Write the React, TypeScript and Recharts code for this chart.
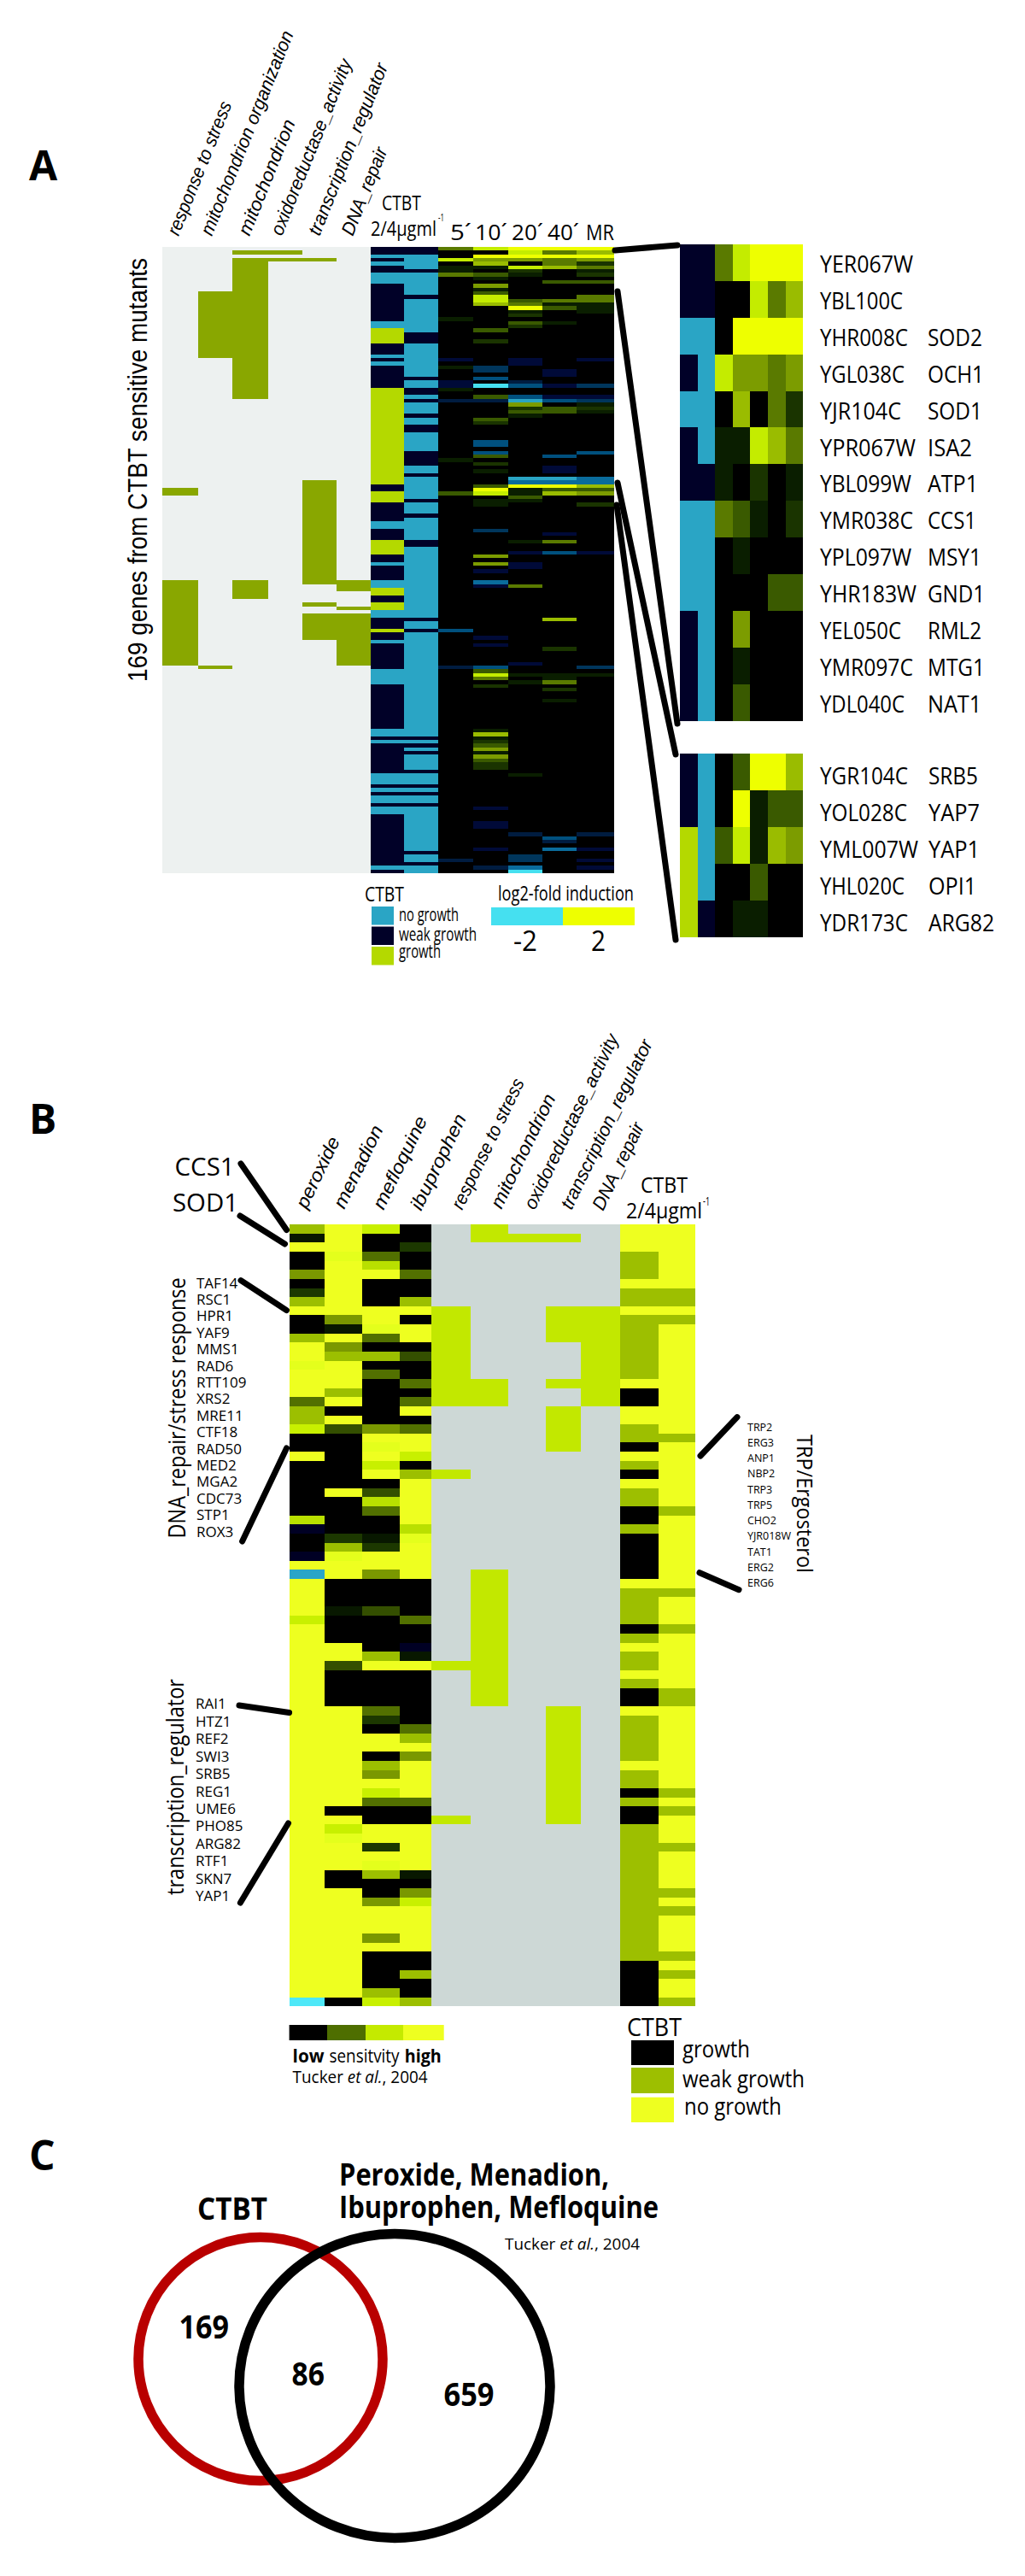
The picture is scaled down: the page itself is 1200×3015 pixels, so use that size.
import React from 'react'
import { BarChart, Bar, XAxis, YAxis, ScatterChart, Scatter } from 'recharts'

// ---- panel A: GO annotation, rows are [first, last] inclusive
const annotResponse = [[65, 66], [90, 112]]
const annotMitoOrg = [[12, 29], [113, 113]]
const annotMito = [[1, 1], [3, 40], [90, 94]]
const annotOxido = [[1, 1], [3, 3]]
const annotTranscription = [[3, 3], [63, 90], [96, 96], [99, 105]]
const annotDnaRepair = [[90, 92], [97, 97], [99, 112]]

// ---- panel A: CTBT growth, runs of [count, state]  N weak  B none  L growth
const ctbtA2: [number, string][] = [[2, 'N'], [1, 'B'], [1, 'N'], [1, 'B'], [2, 'N'], [3, 'B'], [10, 'N'], [2, 'B'], [4, 'L'], [3, 'N'], [1, 'B'], [1, 'N'], [1, 'B'], [6, 'N'], [26, 'L'], [2, 'N'], [3, 'L'], [5, 'N'], [2, 'B'], [3, 'N'], [4, 'L'], [2, 'N'], [1, 'B'], [4, 'N'], [2, 'B'], [2, 'L'], [2, 'N'], [2, 'L'], [2, 'B'], [3, 'N'], [1, 'L'], [2, 'N'], [1, 'B'], [7, 'N'], [4, 'B'], [12, 'N'], [2, 'B'], [1, 'N'], [1, 'B'], [8, 'N'], [3, 'B'], [1, 'N'], [1, 'B'], [1, 'N'], [2, 'B'], [1, 'N'], [2, 'B'], [14, 'N'], [1, 'B'], [1, 'N']]
const ctbtA4: [number, string][] = [[2, 'N'], [4, 'B'], [1, 'N'], [6, 'B'], [1, 'N'], [9, 'B'], [3, 'N'], [9, 'B'], [1, 'N'], [2, 'B'], [2, 'N'], [1, 'B'], [1, 'N'], [3, 'B'], [1, 'N'], [2, 'B'], [2, 'N'], [5, 'B'], [4, 'N'], [2, 'B'], [1, 'N'], [6, 'B'], [1, 'N'], [3, 'B'], [1, 'N'], [6, 'B'], [2, 'N'], [19, 'B'], [1, 'N'], [2, 'B'], [1, 'N'], [28, 'B'], [1, 'N'], [1, 'B'], [1, 'N'], [1, 'B'], [1, 'N'], [4, 'B'], [1, 'N'], [3, 'B'], [1, 'N'], [1, 'B'], [1, 'N'], [2, 'B'], [1, 'N'], [12, 'B'], [1, 'N'], [2, 'B'], [1, 'N'], [2, 'B']]

// ---- panel A: log2 fold induction, [row, value], anything not listed is 0
const expr5min = [[0, 1], [3, 1.75], [5, 0.25], [6, 0.25], [7, 1], [19, 0.25], [30, -0.25], [32, 0.25], [36, -0.25], [37, -0.25], [38, 0.25], [41, -0.5], [57, 0.25], [66, 0.75], [103, -1], [113, -0.5], [165, -0.5]]
const expr10min = [[0, 1.75], [2, 2], [3, 1.25], [4, 1.5], [5, 0.25], [7, 0.75], [8, 0.25], [10, 1.25], [11, 0.25], [12, 0.75], [13, 1.75], [14, 1.75], [15, 1.5], [22, 0.75], [25, 0.5], [32, -0.75], [33, -0.75], [35, -1], [37, -2], [40, 0.75], [41, -0.5], [46, 0.75], [47, 0.5], [52, -1], [53, -1], [55, -1], [56, 0.75], [58, 0.5], [60, 0.25], [64, 0.75], [65, 2], [66, 1.75], [68, 0.25], [69, 0.25], [76, -0.75], [83, 1.25], [85, 1.25], [87, -0.25], [90, -1.25], [91, -0.25], [105, -0.25], [107, -0.25], [113, -1], [114, 0.75], [115, 1.75], [116, 1], [118, 0.5], [130, 0.25], [131, 1.5], [132, 0.25], [133, 0.5], [134, 0.75], [135, 1.25], [136, 0.25], [137, 1.25], [138, 0.75], [139, 0.5], [140, 0.5], [151, -0.25], [155, -0.25], [156, -0.25], [162, -0.25], [167, -0.5]]
const expr20min = [[0, 2], [1, 1.75], [2, 2], [3, 1.25], [5, 1.75], [6, 0.5], [7, 0.25], [14, 0.75], [15, 1], [16, 2], [17, 0.25], [18, 0.5], [20, 0.75], [21, 0.5], [30, -0.25], [31, -0.25], [36, -0.5], [37, -1], [40, -1], [41, -1.5], [42, 1.25], [43, 0.5], [44, 0.75], [45, 0.25], [62, -1.5], [63, -1.25], [64, 2], [65, 0.25], [66, 0.25], [67, 0.75], [68, 0.25], [79, 0.25], [82, -0.25], [85, -0.25], [86, -0.25], [91, 1], [112, -0.25], [115, 0.25], [117, 0.25], [142, 0.25], [158, -0.5], [164, -0.75], [165, -0.75], [167, -1.25], [168, -2]]
const expr40min = [[0, 2], [1, 1], [2, 2], [3, 1], [4, 1], [5, 1.5], [9, 0.75], [14, 1], [15, 0.25], [16, 0.75], [20, 0.25], [33, -0.25], [34, -0.25], [37, -0.25], [40, -0.25], [41, -1], [43, 0.75], [44, 0.75], [56, -1], [59, -0.25], [60, -0.25], [62, -1.5], [63, -1.25], [64, 2], [65, 0.75], [66, 1.5], [77, -0.25], [79, 1], [82, -1], [100, 1.5], [108, 0.5], [115, 0.25], [116, 0.25], [117, 1], [119, 0.5], [122, 0.25], [159, -1], [160, -0.5], [162, -1.25]]
const exprMR = [[0, 2], [1, 1.5], [2, 2], [3, 1.25], [4, 0.5], [5, 1], [6, 0.25], [7, 0.5], [9, 0.75], [13, 1], [14, 1], [15, 0.25], [16, 0.25], [17, 0.25], [30, -0.25], [37, -0.75], [40, -0.25], [41, -0.75], [42, 0.25], [43, 0.5], [44, 0.25], [55, -1], [62, -1.25], [63, -1.25], [64, 1.5], [65, 0.75], [66, 1.25], [69, 0.5], [82, -0.25], [113, -0.75], [115, 0.25], [158, -0.5], [162, -0.25], [165, -0.25], [167, -0.25]]

const genesTop = [['YER067W', ''], ['YBL100C', ''], ['YHR008C', 'SOD2'], ['YGL038C', 'OCH1'], ['YJR104C', 'SOD1'], ['YPR067W', 'ISA2'], ['YBL099W', 'ATP1'], ['YMR038C', 'CCS1'], ['YPL097W', 'MSY1'], ['YHR183W', 'GND1'], ['YEL050C', 'RML2'], ['YMR097C', 'MTG1'], ['YDL040C', 'NAT1']]
const genesBottom = [['YGR104C', 'SRB5'], ['YOL028C', 'YAP7'], ['YML007W', 'YAP1'], ['YHL020C', 'OPI1'], ['YDR173C', 'ARG82']]

// ---- panel B: drug sensitivity, runs of [count, level]
const peroxide: [number, string][] = [[1, 'm3'], [1, 'd1'], [1, 'Y'], [2, 'K'], [1, 'm2'], [1, 'K'], [1, 'd2'], [1, 'm3'], [1, 'Y'], [2, 'K'], [1, 'm3'], [2, 'Y'], [1, 'yf'], [3, 'Y'], [1, 'm1'], [2, 'm3'], [1, 'l'], [2, 'K'], [1, 'Y'], [6, 'K'], [1, 'lm'], [1, 'n'], [2, 'K'], [1, 'n'], [1, 'Y'], [1, 'B'], [4, 'Y'], [1, 'l'], [41, 'Y'], [1, 'C']]
const menadion: [number, string][] = [[3, 'Y'], [1, 'yf'], [6, 'Y'], [1, 'm2'], [1, 'd1'], [1, 'Y'], [1, 'm2'], [1, 'm3'], [3, 'Y'], [1, 'm3'], [1, 'Y'], [1, 'K'], [1, 'Y'], [1, 'd3'], [6, 'K'], [1, 'Y'], [4, 'K'], [1, 'd2'], [1, 'm3'], [1, 'yf'], [2, 'Y'], [3, 'K'], [1, 'd1'], [3, 'K'], [2, 'Y'], [1, 'd3'], [4, 'K'], [11, 'Y'], [1, 'K'], [1, 'Y'], [1, 'l'], [1, 'yf'], [3, 'Y'], [2, 'K'], [12, 'Y'], [1, 'K']]
const mefloquine: [number, string][] = [[1, 'l'], [2, 'K'], [1, 'm1'], [1, 'lm'], [1, 'Y'], [3, 'K'], [2, 'Y'], [1, 'yf'], [1, 'm1'], [1, 'K'], [1, 'm3'], [1, 'K'], [1, 'm1'], [5, 'K'], [1, 'm2'], [1, 'Y'], [1, 'yf'], [1, 'Y'], [1, 'l'], [1, 'Y'], [1, 'K'], [1, 'd3'], [1, 'lm'], [1, 'm1'], [2, 'K'], [1, 'd1'], [1, 'd2'], [2, 'Y'], [1, 'm2'], [3, 'K'], [1, 'd3'], [4, 'K'], [1, 'm3'], [1, 'Y'], [4, 'K'], [1, 'm1'], [1, 'd2'], [1, 'K'], [2, 'Y'], [1, 'K'], [1, 'm3'], [1, 'm2'], [1, 'Y'], [1, 'l'], [1, 'm1'], [2, 'K'], [2, 'Y'], [1, 'd2'], [1, 'Y'], [1, 'yf'], [1, 'm3'], [2, 'K'], [1, 'm2'], [3, 'Y'], [1, 'm2'], [1, 'Y'], [4, 'K'], [1, 'm3'], [1, 'l']]
const ibuprophen: [number, string][] = [[2, 'K'], [1, 'd2'], [2, 'K'], [1, 'm1'], [2, 'K'], [1, 'm3'], [1, 'Y'], [1, 'K'], [2, 'Y'], [1, 'K'], [1, 'd3'], [2, 'K'], [1, 'm1'], [1, 'K'], [1, 'm1'], [1, 'Y'], [1, 'K'], [1, 'm1'], [2, 'Y'], [1, 'l'], [1, 'K'], [1, 'm3'], [5, 'Y'], [1, 'lm'], [1, 'yf'], [4, 'Y'], [4, 'K'], [1, 'm1'], [2, 'K'], [1, 'n'], [1, 'd1'], [1, 'Y'], [6, 'K'], [1, 'm1'], [1, 'm3'], [1, 'Y'], [1, 'm2'], [4, 'Y'], [1, 'm1'], [2, 'K'], [5, 'Y'], [1, 'd1'], [1, 'K'], [1, 'm2'], [1, 'l'], [5, 'Y'], [2, 'K'], [1, 'm3'], [2, 'K'], [1, 'm3']]

// ---- panel B: annotation, rows are [first, last] inclusive
const bResponse = [[9, 19], [27, 27], [48, 48], [65, 65]]
const bMito = [[0, 1], [17, 19], [38, 52]]
const bOxido = [[1, 1]]
const bTranscription = [[1, 1], [9, 12], [17, 17], [20, 24], [53, 65]]
const bDnaRepair = [[9, 19]]

// ---- panel B: CTBT growth, runs of [count, state]  K growth  W weak  Y none
const ctbtB2: [number, string][] = [[3, 'Y'], [3, 'W'], [1, 'Y'], [2, 'W'], [1, 'Y'], [7, 'W'], [1, 'Y'], [2, 'K'], [2, 'Y'], [2, 'W'], [1, 'K'], [1, 'Y'], [1, 'W'], [1, 'K'], [1, 'Y'], [2, 'W'], [2, 'K'], [1, 'W'], [5, 'K'], [1, 'Y'], [4, 'W'], [1, 'K'], [1, 'W'], [1, 'Y'], [2, 'W'], [1, 'Y'], [1, 'W'], [2, 'K'], [1, 'Y'], [5, 'W'], [1, 'Y'], [2, 'W'], [1, 'K'], [1, 'W'], [2, 'K'], [15, 'W'], [5, 'K']]
const ctbtB4: [number, string][] = [[7, 'Y'], [2, 'W'], [1, 'Y'], [1, 'W'], [12, 'Y'], [1, 'W'], [7, 'Y'], [1, 'W'], [8, 'Y'], [1, 'W'], [3, 'Y'], [1, 'W'], [6, 'Y'], [2, 'W'], [9, 'Y'], [1, 'W'], [1, 'Y'], [1, 'W'], [3, 'Y'], [1, 'W'], [4, 'Y'], [1, 'W'], [1, 'Y'], [1, 'W'], [4, 'Y'], [1, 'W'], [1, 'Y'], [1, 'W'], [2, 'Y'], [1, 'W']]

const genesStress = ['TAF14', 'RSC1', 'HPR1', 'YAF9', 'MMS1', 'RAD6', 'RTT109', 'XRS2', 'MRE11', 'CTF18', 'RAD50', 'MED2', 'MGA2', 'CDC73', 'STP1', 'ROX3']
const genesRegulator = ['RAI1', 'HTZ1', 'REF2', 'SWI3', 'SRB5', 'REG1', 'UME6', 'PHO85', 'ARG82', 'RTF1', 'SKN7', 'YAP1']
const genesTrp = ['TRP2', 'ERG3', 'ANP1', 'NBP2', 'TRP3', 'TRP5', 'CHO2', 'YJR018W', 'TAT1', 'ERG2', 'ERG6']

const vennCounts = [169, 86, 659]

// ---- text widths, same order as the gene lists
const topWidths = [[109, 0], [97, 0], [103, 64], [99, 66], [95, 64], [112, 52], [107, 59], [109, 57], [107, 63], [113, 67], [95, 63], [109, 67], [99, 63]]
const bottomWidths = [[103, 58], [102, 60], [115, 60], [99, 56], [103, 77]]

// ---- colours
const ctbtColorsA: Record<string, string> = { N: '#010128', B: '#2aa5c5', L: '#b4d900' }
const ctbtColorsB: Record<string, string> = { K: '#000000', W: '#9dbf00', Y: '#eeff20' }
const drugColors: Record<string, string> = { K: '#000000', d1: '#081800', d2: '#1c3800', d3: '#344f00', m1: '#527000', m2: '#7a9800', m3: '#9cbf00', lm: '#b9e000', l: '#c8f000', yf: '#e4ff1c', Y: '#eeff20', n: '#000024', B: '#2aa5c8', C: '#4ee8f8' }
const exprColors: Record<string, string> = {
  '-2': '#45e0f0', '-1.5': '#2aa5c5', '-1.25': '#0a6c9c', '-1': '#00507e', '-0.75': '#00365c', '-0.5': '#001c40', '-0.25': '#000a38',
  '0': '#000000', '0.25': '#0a1e00', '0.5': '#1a3400', '0.75': '#3a5a00', '1': '#5a7a00', '1.25': '#7c9c00', '1.5': '#9abc00', '1.75': '#c4ec00', '2': '#eeff00',
}

const ROWS_A = 169
const ROWS_B = 86

const expandRuns = (runs: [number, string][], colors: Record<string, string>) =>
  runs.flatMap(([n, s]) => Array(n).fill(colors[s]) as string[])

const spansToColumn = (spans: number[][], total: number, on: string, off: string) => {
  const col = Array(total).fill(off) as string[]
  spans.forEach(([a, b]) => { for (let r = a; r <= b; r++) col[r] = on })
  return col
}

const exprToColumn = (pairs: number[][]) => {
  const col = Array(ROWS_A).fill(exprColors['0']) as string[]
  pairs.forEach(([r, v]) => { col[r] = exprColors[String(v)] })
  return col
}

const annotA = [annotResponse, annotMitoOrg, annotMito, annotOxido, annotTranscription, annotDnaRepair]
  .map((s) => spansToColumn(s, ROWS_A, '#89a700', '#edf1f0'))
const dataA = [expandRuns(ctbtA2, ctbtColorsA), expandRuns(ctbtA4, ctbtColorsA)]
  .concat([expr5min, expr10min, expr20min, expr40min, exprMR].map(exprToColumn))
const panelA = annotA.concat(dataA)
const panelB = [peroxide, menadion, mefloquine, ibuprophen].map((r) => expandRuns(r, drugColors))
  .concat([bResponse, bMito, bOxido, bTranscription, bDnaRepair].map((s) => spansToColumn(s, ROWS_B, '#c2e800', '#cdd8d6')))
  .concat([expandRuns(ctbtB2, ctbtColorsB), expandRuns(ctbtB4, ctbtColorsB)])

const edgesA = [190, 231.7, 272, 313.6, 353.9, 394, 434.3, 473, 513, 554, 595, 635, 675, 719]
const edgesB = [339, 380.3, 423.7, 468, 505, 551.3, 594.7, 639, 680.3, 725.7, 771, 814]
const edgesZoom = [796, 816.6, 837.2, 857.8, 878.4, 899, 919.6, 940]

function Heatmap({ edges, top, height, cols }: { edges: number[], top: number, height: number, cols: string[][] }) {
  const widths = edges.slice(1).map((e, i) => e - edges[i])
  const total = edges[edges.length - 1] - edges[0]
  const data = cols[0].map((_, r) => {
    const row: Record<string, number> = { row: r }
    widths.forEach((w, i) => { row['c' + i] = w })
    return row
  })
  const band = height / data.length
  return (
    <div style={{ position: 'absolute', left: edges[0], top, shapeRendering: 'crispEdges' }}>
      <BarChart width={total} height={height} data={data} layout="vertical" margin={{ top: 0, right: 0, bottom: 0, left: 0 }}
        barCategoryGap={0} barGap={0}>
        <XAxis type="number" domain={[0, total]} hide />
        <YAxis type="category" dataKey="row" hide />
        {widths.map((_, i) => (
          <Bar key={i} dataKey={'c' + i} stackId="h" isAnimationActive={false}
            // recharts floors the bar thickness to whole pixels, so stretch each cell over its band
            shape={(p: any) => (
              <rect x={p.x} y={Math.round(p.y / band) * band} width={p.width} height={band} fill={cols[i][p.index]} />
            )} />
        ))}
      </BarChart>
    </div>
  )
}

function Venn() {
  // outer circles of panel C in a box that starts at y=2560
  const sets = [
    { x: 305, y: 201, rx: 143, ry: 142.5, color: '#b90000' },
    { x: 462, y: 232.4, rx: 182, ry: 178, color: '#000000' },
  ]
  return (
    <div style={{ position: 'absolute', left: 0, top: 2560 }}>
      <ScatterChart width={1200} height={455} margin={{ top: 0, right: 0, bottom: 0, left: 0 }}>
        <XAxis type="number" dataKey="x" domain={[0, 1200]} hide />
        <YAxis type="number" dataKey="y" domain={[0, 455]} reversed hide />
        <Scatter data={sets} isAnimationActive={false} shape={(p: any) => (
          <ellipse cx={p.cx} cy={p.cy} rx={p.payload.rx} ry={p.payload.ry} fill="none" stroke={p.payload.color} strokeWidth={11.5} />
        )} />
      </ScatterChart>
    </div>
  )
}

const SANS = "'Liberation Sans', Arial, sans-serif"
const HUM = "'Open Sans', sans-serif"

function T({ x, y, s, w, r, b, i, f = HUM, children }: any) {
  return (
    <text x={x} y={y} fontSize={s} fontFamily={f} fontWeight={b ? 700 : 400} fontStyle={i ? 'italic' : 'normal'} fill="#000"
      textLength={w} lengthAdjust={w ? 'spacingAndGlyphs' : undefined}
      transform={r ? `rotate(${r} ${x} ${y})` : undefined}>{children}</text>
  )
}

const Swatch = ({ x, y, w, h, c }: any) => <rect x={x} y={y} width={w} height={h} fill={c} />

const connectors = [
  [720, 293, 793, 287], [723, 341, 793, 847], [723, 565, 791, 883], [722, 591, 791, 1100],
  [282, 1362, 335.5, 1439.6], [281, 1423, 333.5, 1456], [282, 1498.6, 335.5, 1533.6], [335.5, 1695, 283.6, 1804],
  [863, 1658.6, 820, 1704], [819, 1840.7, 865, 1860.7], [280, 1996, 338.6, 2004.5], [337.5, 2134, 281.4, 2227],
]

const labelsA: [string, number, number, number][] = [
  ['response to stress', 209, 277, 167], ['mitochondrion organization', 248, 277, 256], ['mitochondrion', 292, 277, 144],
  ['oxidoreductase_activity', 330, 277, 220], ['transcription_regulator', 374, 277, 215], ['DNA_repair', 413, 277, 109],
]
const labelsB: [string, number, number, number][] = [
  ['peroxide', 359, 1416, 90], ['menadion', 403, 1416, 105], ['mefloquine', 449, 1417, 118], ['ibuprophen', 493, 1418, 122],
  ['response to stress', 541, 1417, 167], ['mitochondrion', 587, 1416, 146], ['oxidoreductase_activity', 626, 1417, 225],
  ['transcription_regulator', 669, 1417, 218], ['DNA_repair', 706, 1418, 111],
]
const timeLabels: [string, number, number][] = [['5´', 527, 25], ['10´', 556, 38], ['20´', 599, 37], ['40´', 641, 37], ['MR', 686, 33]]

export default function App() {
  return (
    <div style={{ position: 'absolute', left: 0, top: 0, width: 1200, height: 3015, background: '#fff', overflow: 'hidden' }}>
      <Heatmap edges={edgesA} top={289} height={733} cols={panelA} />
      <Heatmap edges={edgesZoom} top={286} height={557.6} cols={dataA.map((c) => c.slice(0, 13))} />
      <Heatmap edges={edgesZoom} top={882} height={214.6} cols={dataA.map((c) => c.slice(64, 69))} />
      <Heatmap edges={edgesB} top={1432.5} height={915.3} cols={panelB} />
      <Venn />

      <svg width={1200} height={3015} style={{ position: 'absolute', left: 0, top: 0, pointerEvents: 'none' }}>
        <T x={34} y={211} s={48} b>A</T>
        <T x={34} y={1327} s={48} b>B</T>
        <T x={34} y={2540} s={48} b>C</T>

        {connectors.map(([a, b, c, d], i) => (
          <line key={i} x1={a} y1={b} x2={c} y2={d} stroke="#000" strokeWidth={7} strokeLinecap="round" />
        ))}

        {/* panel A headers */}
        {labelsA.map(([t, x, y, w]) => <T key={t} x={x} y={y} s={22} w={w} r={-68} i f={SANS}>{t}</T>)}
        <T x={447} y={246} s={23} w={46}>CTBT</T>
        <T x={434} y={276} s={23} w={77}>2/4µgml</T>
        <T x={513} y={259} s={13} w={7}>-1</T>
        {timeLabels.map(([t, x, w]) => <T key={t} x={x} y={281} s={25} w={w}>{t}</T>)}
        <T x={172} y={798} s={32} w={496} r={-90} f={SANS}>169 genes from CTBT sensitive mutants</T>

        {/* panel A gene labels */}
        {genesTop.map(([a, b], i) => (
          <g key={a}>
            <T x={960} y={319.3 + 42.86 * i} s={27} w={topWidths[i][0]}>{a}</T>
            {b && <T x={1086} y={319.3 + 42.86 * i} s={27} w={topWidths[i][1]}>{b}</T>}
          </g>
        ))}
        {genesBottom.map(([a, b], i) => (
          <g key={a}>
            <T x={960} y={918 + 43 * i} s={27} w={bottomWidths[i][0]}>{a}</T>
            <T x={1087} y={918 + 43 * i} s={27} w={bottomWidths[i][1]}>{b}</T>
          </g>
        ))}

        {/* panel A legends */}
        <T x={427} y={1055} s={24} w={46}>CTBT</T>
        <Swatch x={435} y={1061} w={26} h={21.5} c={ctbtColorsA.B} />
        <Swatch x={435} y={1084.5} w={26} h={21.5} c={ctbtColorsA.N} />
        <Swatch x={435} y={1108} w={26} h={21.5} c={ctbtColorsA.L} />
        <T x={467} y={1078} s={21} w={70}>no growth</T>
        <T x={467} y={1100.7} s={21} w={91}>weak  growth</T>
        <T x={467} y={1120.7} s={21} w={49}>growth</T>
        <T x={583} y={1054} s={24} w={159}>log2-fold induction</T>
        <Swatch x={575} y={1062} w={84} h={21} c="#45e0f0" />
        <Swatch x={659} y={1062} w={84} h={21} c="#eeff00" />
        <T x={601} y={1112.5} s={32} w={28}>-2</T>
        <T x={692} y={1112.5} s={32} w={17}>2</T>

        {/* panel B headers */}
        {labelsB.map(([t, x, y, w]) => <T key={t} x={x} y={y} s={22} w={w} r={-64} i f={SANS}>{t}</T>)}
        <T x={750} y={1395.7} s={25} w={55}>CTBT</T>
        <T x={733} y={1426.4} s={25} w={89}>2/4µgml</T>
        <T x={823} y={1411} s={14} w={8}>-1</T>
        <T x={204.6} y={1376.4} s={30} w={70}>CCS1</T>
        <T x={202} y={1418} s={30} w={77}>SOD1</T>

        {/* panel B side labels */}
        <T x={217} y={1800.4} s={27} w={305} r={-90}>DNA_repair/stress response</T>
        <T x={215} y={2218} s={27} w={253} r={-90}>transcription_regulator</T>
        <T x={933} y={1679} s={26} w={162} r={90}>TRP/Ergosterol</T>
        {genesStress.map((g, i) => <T key={g} x={230} y={1507.5 + 19.41 * i} s={17}>{g}</T>)}
        {genesRegulator.map((g, i) => <T key={g} x={229} y={2000.4 + 20.42 * i} s={17}>{g}</T>)}
        {genesTrp.map((g, i) => <T key={g} x={875} y={1674.7 + 18.23 * i} s={12.5}>{g}</T>)}

        {/* panel B legends */}
        <Swatch x={338.6} y={2370} w={44.4} h={18} c="#000000" />
        <Swatch x={383} y={2370} w={45} h={18} c="#4e6e00" />
        <Swatch x={428} y={2370} w={44} h={18} c="#c4ea00" />
        <Swatch x={472} y={2370} w={47.7} h={18} c="#eeff20" />
        <T x={342.6} y={2414} s={22} b w={37}>low</T>
        <T x={385.5} y={2414} s={21} w={82}>sensitvity</T>
        <T x={473.8} y={2414} s={22} b w={43}>high</T>
        <T x={342.6} y={2437.6} s={20} w={158}>Tucker <tspan fontStyle="italic">et al.</tspan>, 2004</T>
        <T x={734} y={2383} s={29} w={64}>CTBT</T>
        <Swatch x={739} y={2388} w={50} h={29} c="#000000" />
        <Swatch x={739} y={2420} w={50} h={30} c="#9dbf00" />
        <Swatch x={739} y={2454.7} w={50} h={29.3} c="#eeff20" />
        <T x={799} y={2407.8} s={27} w={79}>growth</T>
        <T x={799} y={2443} s={27} w={143}>weak growth</T>
        <T x={801} y={2475} s={27} w={114}>no growth</T>

        {/* panel C */}
        <T x={397} y={2558} s={36} b w={316}>Peroxide, Menadion,</T>
        <T x={397} y={2596} s={36} b w={374}>Ibuprophen, Mefloquine</T>
        <T x={231} y={2597.7} s={36} b w={82}>CTBT</T>
        <T x={591} y={2632.5} s={19} w={158}>Tucker <tspan fontStyle="italic">et al.</tspan>, 2004</T>
        <T x={209.5} y={2737} s={38} b w={58.5}>{vennCounts[0]}</T>
        <T x={341.6} y={2792} s={38} b w={38.4}>{vennCounts[1]}</T>
        <T x={519.5} y={2815.5} s={38} b w={59}>{vennCounts[2]}</T>
      </svg>
    </div>
  )
}
